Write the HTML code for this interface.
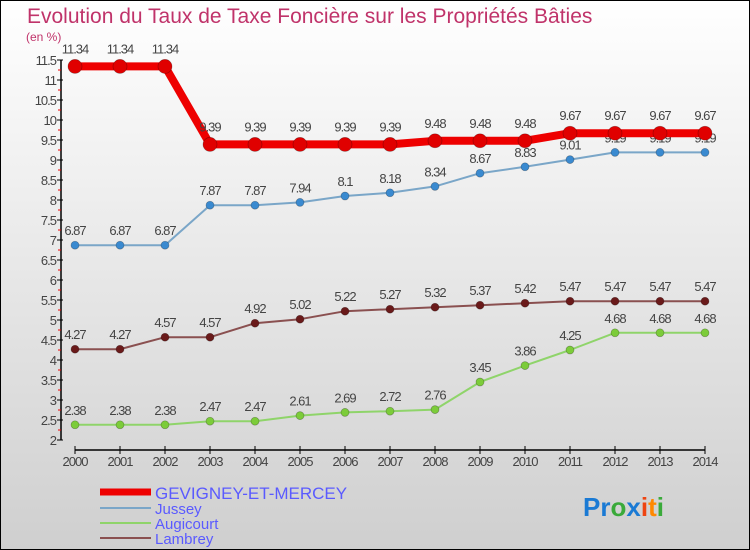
<!DOCTYPE html>
<html><head><meta charset="utf-8"><style>
body{margin:0}
#c{width:750px;height:550px;position:relative;overflow:hidden}
svg text{font-family:"Liberation Sans",sans-serif}
</style></head><body>
<div id="c">
<svg id="s" width="750" height="550" xmlns="http://www.w3.org/2000/svg">
<defs><linearGradient id="bg" x1="0" y1="0" x2="0" y2="1"><stop offset="0" stop-color="#ffffff"/><stop offset="1" stop-color="#cfcfcf"/></linearGradient></defs>
<rect x="0.5" y="0.5" width="749" height="549" fill="url(#bg)" stroke="#000"/>
<text x="27" y="23" font-size="21" fill="#c0336a">Evolution du Taux de Taxe Foncière sur les Propriétés Bâties</text>
<text x="26" y="41" font-size="12" fill="#c0336a">(en %)</text>
<g id="axes"></g><g id="series"></g>
<g>
<line x1="100" y1="492" x2="151" y2="492" stroke="#ee0000" stroke-width="7"/>
<text x="155" y="499" font-size="17" fill="#5a5aff">GEVIGNEY-ET-MERCEY</text>
<line x1="100" y1="508" x2="151" y2="508" stroke="#7aa6c8" stroke-width="2"/>
<text x="155" y="514" font-size="15" fill="#5a5aff">Jussey</text>
<line x1="100" y1="523" x2="151" y2="523" stroke="#8fd46a" stroke-width="2"/>
<text x="155" y="529" font-size="15" fill="#5a5aff">Augicourt</text>
<line x1="100" y1="538" x2="151" y2="538" stroke="#8a5050" stroke-width="2"/>
<text x="155" y="544" font-size="15" fill="#5a5aff">Lambrey</text>
</g>
<g font-size="26" font-weight="bold">
<text x="583" y="516"><tspan fill="#1a7ad4">Pr</tspan><tspan fill="#3aaa3a">o</tspan><tspan fill="#1a7ad4">x</tspan><tspan fill="#ee4411">i</tspan><tspan fill="#ff8800">t</tspan><tspan fill="#3aaa3a">i</tspan></text>
</g>
</svg></div>
<script>
const years=[2000,2001,2002,2003,2004,2005,2006,2007,2008,2009,2010,2011,2012,2013,2014];
const gevigney=[11.34,11.34,11.34,9.39,9.39,9.39,9.39,9.39,9.48,9.48,9.48,9.67,9.67,9.67,9.67];
const jussey=[6.87,6.87,6.87,7.87,7.87,7.94,8.1,8.18,8.34,8.67,8.83,9.01,9.19,9.19,9.19];
const augicourt=[2.38,2.38,2.38,2.47,2.47,2.61,2.69,2.72,2.76,3.45,3.86,4.25,4.68,4.68,4.68];
const lambrey=[4.27,4.27,4.57,4.57,4.92,5.02,5.22,5.27,5.32,5.37,5.42,5.47,5.47,5.47,5.47];
const yTicks=[2,2.5,3,3.5,4,4.5,5,5.5,6,6.5,7,7.5,8,8.5,9,9.5,10,10.5,11,11.5];
const NS="http://www.w3.org/2000/svg";
const xS=i=>75+i*45, yS=v=>440-(v-2)*40;
function el(t,a,p){const e=document.createElementNS(NS,t);for(const k in a)e.setAttribute(k,a[k]);p.appendChild(e);return e;}
const ax=document.getElementById('axes');
let l=el('line',{x1:61,y1:yS(11.5),x2:61,y2:yS(2),stroke:'#000','stroke-width':1.5},ax);


yTicks.forEach(v=>{
 el('line',{x1:57,y1:yS(v),x2:63,y2:yS(v),stroke:'#000'},ax);
 if(v<11.5)el('line',{x1:58,y1:yS(v+0.25),x2:61,y2:yS(v+0.25),stroke:'#e00'},ax);
 const t=el('text',{x:56,y:yS(v)+5,'text-anchor':'end','font-size':13,fill:'#444','letter-spacing':'-1'},ax);t.textContent=String(v);
 
 
});
l=el('line',{x1:xS(0),y1:450,x2:xS(years.length-1),y2:450,stroke:'#000','stroke-width':1.5},ax);


years.forEach((y,i)=>{
 el('line',{x1:xS(i),y1:446,x2:xS(i),y2:454,stroke:'#000'},ax);
 const t=el('text',{x:xS(i),y:466,'text-anchor':'middle','font-size':13,fill:'#444','letter-spacing':'-1'},ax);t.textContent=y;
 
 
});
const sg=document.getElementById('series');
function draw(name,data,color,w,r,fill){
 const g=el('g',{},sg);
 
 
 el('polyline',{points:data.map((v,i)=>xS(i)+','+yS(v)).join(' '),fill:'none',stroke:color,'stroke-width':w,'stroke-linejoin':'round'},g);
 data.forEach((v,i)=>{
  const c=el('circle',{cx:xS(i),cy:yS(v),r:r,fill:fill,stroke:'rgba(0,0,0,0.3)','stroke-width':0.7},g);
  
  
  const t=el('text',{x:xS(i),y:yS(v)-(r+6),'text-anchor':'middle','font-size':13,fill:'#444','letter-spacing':'-1'},g);
  t.textContent=String(v);
  
  
 });
}
draw('augicourt',augicourt,'#8fd46a',2,4,'#7ccc3a');
draw('lambrey',lambrey,'#8a5050',2,4,'#6a1a1a');
draw('jussey',jussey,'#7aa6c8',2,4,'#3a8ad0');
draw('gevigney',gevigney,'#ee0000',8,7,'#e00000');
</script>
</body></html>
